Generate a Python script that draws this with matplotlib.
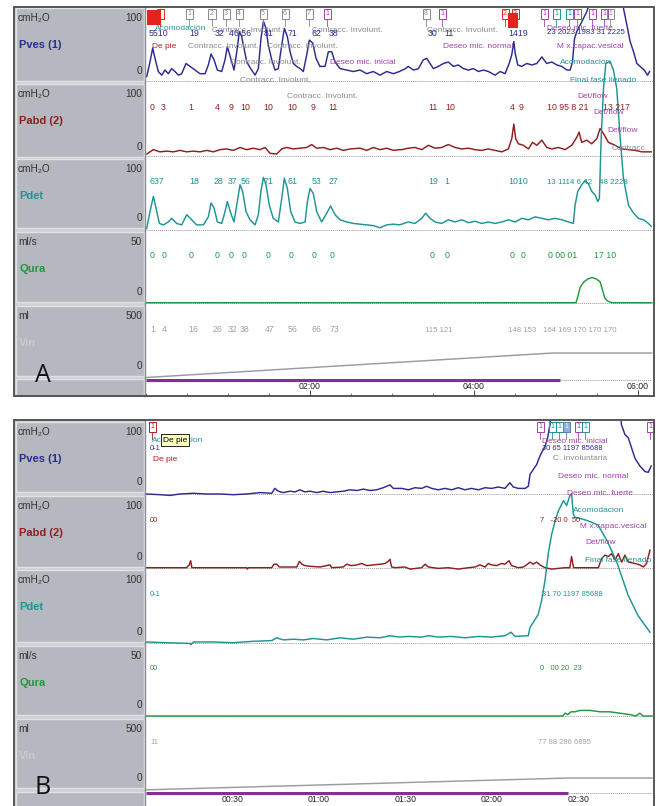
import matplotlib
matplotlib.use('Agg')
import numpy as np
import matplotlib.pyplot as plt
from matplotlib.patches import Rectangle
from matplotlib.lines import Line2D

plt.rcParams['font.family'] = ['Liberation Sans', 'DejaVu Sans']

# ======================= DATA : panel A (time in seconds) =======================
A_pves_t = [0.5, 2.9, 4.9, 6.6, 9.0, 11.5, 13.9, 16.3, 18.8, 21.2,
            23.7, 26.1, 29.3, 32.2, 35.9, 39.5, 43.2, 45.6, 47.6, 49.8,
            52.2, 55.4, 57.8, 59.5, 62.0, 64.4, 66.8, 68.3, 70.0, 71.7,
            73.7, 76.6, 79.8, 82.2, 84.1, 85.9, 87.8, 89.5, 92.0, 94.4,
            96.8, 99.3, 101.2, 103.4, 105.4, 107.8, 110.2, 112.7, 115.1, 117.6,
            119.5, 122.0, 124.4, 127.3, 131.0, 133.4, 135.9, 138.3, 142.0, 146.8,
            151.7, 156.6, 161.5, 166.3, 171.2, 176.1, 181.0, 185.4, 189.9, 191.9,
            195.7, 199.3, 202.9, 205.4, 207.8, 210.2, 213.9, 217.6, 221.2, 224.9,
            228.5, 232.2, 235.9, 239.5, 243.2, 246.9, 250.5, 255.4, 259.1, 262.7,
            265.7, 267.6, 269.1, 270.1, 272.0, 274.9, 278.6, 282.3, 285.9, 289.6,
            293.2, 296.9, 300.6, 304.2, 307.9, 310.3, 312.0, 313.5, 315.2, 317.7,
            320.1, 322.5, 327.4, 337.2, 346.9, 349.4, 351.8, 354.2, 356.7, 359.1,
            361.5, 364.5, 366.9, 368.4]
A_pves_v = [6, 26, 45, 31, 13, 8, 15, 10, 17, 13,
            8, 10, 24, 20, 15, 10, 10, 22, 37, 29,
            15, 13, 29, 47, 31, 15, 45, 68, 61, 45,
            26, 17, 8, 17, 58, 82, 72, 49, 29, 15,
            17, 49, 72, 61, 40, 24, 20, 17, 13, 36,
            56, 52, 31, 20, 20, 40, 40, 26, 17, 15,
            13, 15, 10, 13, 8, 13, 10, 13, 17, 20,
            15, 17, 29, 31, 24, 17, 20, 24, 26, 20,
            22, 17, 15, 17, 13, 15, 13, 8, 13, 10,
            24, 36, 54, 38, 22, 20, 24, 22, 24, 33,
            24, 26, 22, 20, 15, 15, 26, 58, 68, 77,
            86, 95, 122, 131, 122, 99, 77, 54, 40, 24,
            20, 15, 8, 13]

A_pabd_t = [0.5, 5.4, 10.2, 15.1, 20.0, 24.9, 29.8, 34.6, 39.5, 44.4,
            49.3, 54.1, 59.0, 63.9, 68.8, 73.7, 78.5, 83.4, 87.1, 90.7,
            95.6, 99.3, 103.0, 107.8, 112.7, 117.6, 121.2, 124.9, 129.8, 134.6,
            139.5, 144.4, 149.3, 156.6, 161.5, 166.3, 171.2, 176.1, 181.0, 185.4,
            187.1, 191.9, 196.8, 201.7, 206.6, 211.5, 216.3, 221.2, 226.1, 231.0,
            235.9, 240.7, 245.6, 250.5, 255.4, 260.3, 265.1, 267.6, 269.1, 270.5,
            272.5, 276.1, 279.8, 282.8, 285.9, 289.6, 293.2, 296.9, 301.8, 306.6,
            311.5, 315.2, 316.9, 318.8, 322.5, 326.1, 329.8, 332.2, 334.7, 338.3,
            343.2, 348.1, 353.0, 357.9, 362.8, 369.6]
A_pabd_v = [2, 8, 5, 6, 5, 7, 5, 6, 5, 7,
            5, 8, 9, 7, 11, 8, 10, 8, 11, 3,
            2, 9, 11, 9, 10, 11, 15, 10, 11, 8,
            10, 7, 9, 10, 7, 11, 8, 10, 7, 8,
            8, 10, 11, 8, 14, 10, 11, 15, 11, 9,
            10, 8, 7, 9, 7, 5, 9, 23, 43, 23,
            16, 14, 9, 18, 14, 21, 11, 9, 11, 8,
            14, 25, 32, 18, 21, 16, 23, 37, 30, 18,
            14, 9, 8, 7, 5, 5]

A_pdet_t = [0.5, 2.9, 5.4, 7.3, 9.8, 12.7, 16.3, 18.8, 22.4, 26.1,
            29.8, 33.4, 37.1, 42.0, 45.6, 47.6, 49.8, 52.2, 55.4, 57.8,
            59.5, 62.0, 64.4, 66.8, 68.8, 70.7, 73.2, 76.1, 79.8, 82.2,
            84.1, 85.9, 87.8, 90.2, 93.1, 96.8, 99.3, 101.2, 103.4, 105.9,
            109.0, 112.7, 116.4, 118.1, 120.0, 122.4, 124.9, 128.5, 132.2, 135.1,
            138.3, 142.0, 146.8, 151.7, 156.6, 161.5, 166.3, 171.2, 176.1, 181.0,
            185.4, 187.1, 191.9, 196.8, 201.7, 204.6, 207.8, 211.5, 216.3, 221.2,
            226.1, 231.0, 235.9, 240.7, 245.6, 250.5, 255.4, 260.3, 265.1, 270.0,
            274.9, 279.8, 284.7, 289.6, 294.4, 299.3, 304.2, 309.1, 312.7, 313.9,
            315.9, 318.8, 321.3, 323.7, 326.1, 328.6, 330.5, 331.7, 333.0, 334.7,
            336.4, 339.6, 342.0, 344.4, 346.9, 349.3, 353.0, 356.7, 360.3, 364.0,
            367.6, 369.6]
A_pdet_v = [2, 25, 46, 30, 9, 7, 11, 16, 9, 7,
            21, 14, 7, 7, 18, 37, 30, 11, 9, 25,
            39, 23, 11, 39, 62, 53, 25, 14, 7, 21,
            53, 72, 62, 34, 16, 11, 43, 71, 57, 25,
            11, 9, 11, 39, 57, 50, 25, 11, 23, 33,
            21, 14, 11, 9, 8, 7, 6, 3, 7, 8,
            7, 8, 11, 9, 16, 23, 16, 11, 9, 14,
            11, 14, 10, 12, 9, 11, 9, 11, 14, 11,
            16, 14, 18, 16, 14, 16, 14, 11, 9, 34,
            53, 62, 68, 63, 53, 48, 39, 43, 126, 194,
            228, 231, 219, 194, 126, 71, 34, 23, 16, 14,
            9, 5]

A_qura_t = [0, 314.6, 316.1, 317.6, 320.5, 323.4, 326.3, 329.3, 332.2, 333.7, 335.8, 338.0, 341.0, 370]
A_qura_v = [0, 0, 5, 11, 15, 17, 18, 17, 15, 10, 3, 1, 0, 0]

A_vin_t = [0, 297.6, 370]
A_vin_v = [0, 170, 170]
A_fill_end = 303

A_ticks_major = [120, 240, 360]
A_ticks_minor_step = 30

# ======================= DATA : panel B (time in seconds) =======================
B_pves_t = [0.2, 4.9, 8.3, 11.8, 16.4, 21.0, 25.7, 30.3, 34.9, 39.5,
            43.6, 44.7, 45.9, 47.6, 50.0, 51.7, 53.4, 55.1, 56.9, 59.2,
            61.5, 63.8, 66.1, 68.4, 70.8, 73.1, 75.4, 77.7, 80.0, 82.3,
            84.6, 85.8,
            88.7, 91.0, 93.3, 95.6, 97.3, 99.1, 101.4, 103.7, 106.0, 108.3,
            110.6, 112.9, 115.3, 117.6, 119.9, 122.2, 124.5, 126.2, 127.4, 129.1,
            131.5, 132.6, 133.2, 134.3, 135.5, 136.3, 137.2, 138.4, 139.3, 140.1,
            140.7, 155.7, 164.4, 164.9, 166.1, 167.3, 168.4, 169.6, 171.3, 173.1,
            174.2, 175.2]
B_pves_v = [0, -1, -2, 0, 1, 0, 0, -1, 0, 2,
            1, 8, 4, 2, 4, 3, 6, 3, 4, 2,
            4, 2, 3, 4, 6, 5, 7, 5, 6, 9,
            13, 8,
            8, 6, 9, 8, 11, 8, 6, 8, 6, 9,
            6, 8, 6, 9, 8, 10, 8, 16, 10, 8,
            8, 11, 28, 35, 42, 51, 59, 68, 80, 99,
            128, 142, 123, 99, 85, 80, 66, 51, 40, 32,
            31, 40]

B_pabd_t = [0.2, 14.1, 15.0, 15.5, 15.9, 34.9, 35.1, 35.5, 43.6, 44.4,
            45.3, 46.2, 48.8, 52.3, 53.2, 54.1, 55.1, 56.9, 60.3, 63.8,
            64.4, 68.4, 69.6, 71.3, 73.1, 74.8, 76.6, 78.8, 81.2, 82.9,
            84.0, 84.6, 85.2,
            86.4, 89.8, 91.6, 95.6, 96.8, 97.9, 101.4, 104.8, 108.3, 111.8,
            114.1, 115.8, 117.6, 118.7, 119.9, 121.6, 123.3, 124.5, 125.9, 126.8,
            129.1, 130.9, 132.0, 133.2, 134.3, 135.5, 136.6, 138.4, 140.7, 142.9,
            145.3, 147.0, 147.6, 148.3, 151.0, 156.9, 158.0, 159.2, 160.3, 161.5,
            162.7, 163.8, 165.0, 166.1, 167.3, 169.6, 171.3, 172.5, 173.6, 174.8]
B_pabd_v = [0, 0, 4, 10, 0, 0, -2, 0, 0, 5,
            5, 1, 1, 1, 9, 5, 3, 2, 1, 4,
            0, 1, 5, 3, 4, 6, 3, 4, 5, 6,
            9, 12, 1,
            0, 1, -2, 0, 5, 1, -1, 0, -2, 0,
            1, 4, 1, 6, 4, 3, 6, 5, 10, 3,
            0, 1, 4, 8, 5, 8, 4, 0, -2, -1,
            0, 0, 16, 0, 0, 0, 13, 18, 16, 20,
            11, 20, 8, 18, 8, 6, 4, 1, 6, 25]

B_pdet_t = [0.2, 7.2, 15.3, 15.5, 16.4, 23.3, 30.3, 37.2, 43.6, 45.3,
            47.6, 51.1, 54.6, 58.0, 62.7, 67.3, 71.9, 76.6, 81.2, 84.6,
            87.8,
            91.0, 95.6, 97.9, 101.4, 106.0, 110.6, 115.3, 119.9, 124.5, 126.6,
            128.0, 132.6, 133.2, 134.3, 136.0, 137.2, 138.4, 139.5, 140.7, 141.9,
            143.0, 144.8, 145.9, 147.0, 147.6, 148.2, 148.8, 151.0, 153.4, 156.8,
            160.0, 163.3, 167.2, 170.6, 174.8]
B_pdet_v = [1, 0, -1, -3, 1, 1, 0, 2, 3, 7,
            4, 5, 4, 6, 4, 7, 5, 8, 7, 10,
            8,
            9, 8, 10, 8, 9, 7, 9, 8, 10, 15,
            9, 10, 22, 29, 40, 60, 89, 127, 155, 174,
            188, 203, 196, 210, 213, 184, 179, 177, 174, 168,
            145, 115, 68, 39, 15]

B_qura_t = [0, 144.6, 145.3, 146.3, 147.4, 148.8, 150.5, 154.0, 157.4, 160.9, 164.4, 167.9, 169.9, 171.3, 172.4, 175.5]
B_qura_v = [0, 0, 2, 1, 3, 3, 4, 4, 3, 3, 2, 1, 0, 2, 0, 0]

B_vin_t = [0, 146.4, 175.5]
B_vin_v = [8, 90, 90]
B_fill_end = 146.4

B_ticks_major = [30, 60, 90, 120, 150]
B_ticks_minor_step = 10

# channel labels
units = ['cmH\u2082O', 'cmH\u2082O', 'cmH\u2082O', 'ml/s', 'ml']
tops = ['100', '100', '100', '50', '500']
names = ['Pves (1)', 'Pabd (2)', 'Pdet', 'Qura', 'Vin']
ymax = [100, 100, 100, 50, 500]

# ======================= STYLE =======================
C_PVES = '#2c2c90'
C_PABD = '#8e1f1f'
C_PDET = '#1f9494'
C_QURA = '#1f9a40'
C_VIN = '#9a9aa4'
C_PURPLE = '#a044a8'
C_GRAY = '#8a8a8a'
C_RED = '#e5231d'
C_DRED = '#b02020'
name_colors = [C_PVES, C_PABD, C_PDET, C_QURA, '#c9cbd1']
trace_colors = [C_PVES, C_PABD, C_PDET, C_QURA, C_VIN]

W, H = 661, 806
fig = plt.figure(figsize=(W / 100, H / 100), dpi=100)
fig.patch.set_facecolor('white')


def fx(x):
    return x / W


def fy(y):
    return 1 - y / H


def prect(x0, y0, x1, y1, **kw):
    r = Rectangle((fx(x0), fy(y1)), fx(x1) - fx(x0), fy(y0) - fy(y1),
                  transform=fig.transFigure, **kw)
    fig.add_artist(r)
    return r


def pline(x0, y0, x1, y1, **kw):
    fig.add_artist(Line2D([fx(x0), fx(x1)], [fy(y0), fy(y1)], transform=fig.transFigure, **kw))


def ptext(x, y, s, color='black', size=6, ha='left', va='center', weight='normal', **kw):
    return fig.text(fx(x), fy(y), s, color=color, fontsize=size, ha=ha, va=va,
                    fontweight=weight, **kw)


def axes_px(x0, y0, x1, y1, zorder=0):
    ax = fig.add_axes([fx(x0), fy(y1), fx(x1) - fx(x0), fy(y0) - fy(y1)], zorder=zorder)
    ax.patch.set_visible(False)
    return ax


def mmss(t):
    return '%02d:%02d' % (t // 60, t % 60)


def draw_panel(border, boxes, trace_rows, xmax, series, fill_end, tmaj, tmin_step,
               time_ax_px, label_frac, letter, letter_y):
    bx0, by0, bx1, by1 = border
    # label column
    prect(bx0 + 1, by0, 145, by1, facecolor='#cdd0d5', edgecolor='none', zorder=0.5)
    for i, (r0, r1) in enumerate(boxes):
        prect(16, r0, 143.5, r1, facecolor='#b5b8bf', edgecolor='#dfe1e5', lw=1.0, zorder=0.6)
        if i < 5:
            ptext(18, r0 + 10, units[i], color='#333333', size=7.3)
            ptext(142, r0 + 10, tops[i], color='#333333', size=7.3, ha='right')
            ptext(19, r0 + 37, names[i], color=name_colors[i], size=8, weight='bold')
            ptext(142, r1 - 10, '0', color='#333333', size=7.3, ha='right')
    pline(145, by0, 145, by1, color='#8a8d94', lw=1.0)

    clip = Rectangle((fx(146), fy(by1)), fx(653) - fx(146), fy(by0 + 1) - fy(by1),
                     transform=fig.transFigure)
    for i, ((y0, y1), (t, v)) in enumerate(zip(trace_rows, series)):
        ax = axes_px(146, y0, 652, y1, zorder=1)
        ax.set_axis_off()
        ax.set_xlim(0, xmax)
        ax.set_ylim(0, ymax[i])
        if i < 4:
            ax.axhline(0, color='#9a9a9a', ls=(0, (1, 1)), lw=0.7, clip_on=False)
        ln, = ax.plot(t, v, color=trace_colors[i], lw=1.05)
        ln.set_clip_path(clip)

    # time row
    tx0, ty0, tx1, ty1 = time_ax_px
    tax = axes_px(tx0, ty0, tx1, ty1, zorder=1)
    tax.set_xlim(0, xmax)
    tax.set_ylim(0, 1)
    for s in tax.spines.values():
        s.set_visible(False)
    tax.set_yticks([])
    tax.set_xticks(tmaj)
    tax.set_xticks(np.arange(0, xmax, tmin_step), minor=True)
    tax.tick_params(axis='x', which='major', direction='in', length=4, width=0.7,
                    color='#444444', labelbottom=False)
    tax.tick_params(axis='x', which='minor', direction='in', length=2.2, width=0.6,
                    color='#666666')
    top_frac = 1 - 1.2 / (ty1 - ty0)
    tax.plot([0, fill_end], [top_frac, top_frac], color='#8a2a9c', lw=2.3, solid_capstyle='butt')
    tax.plot([fill_end, xmax], [top_frac, top_frac], color='#9a9a9a', lw=0.7, ls=(0, (1, 1)))
    for t in tmaj:
        tax.text(t, label_frac, mmss(t), ha='center', va='center', fontsize=6.3, color='#222222')

    # outer border
    prect(bx0, by0, bx1, by1, facecolor='none', edgecolor='#4a4a4a', lw=1.3, zorder=5)
    ptext(43, letter_y, letter, size=18, ha='center', color='#111111',
          family=['Open Sans', 'DejaVu Sans'], zorder=6)


def marker(xc, y0, label, ec, fill='none', tc=None):
    prect(xc - 3.5, y0, xc + 3.5, y0 + 10.5, facecolor=fill, edgecolor=ec, lw=0.7, zorder=4)
    ptext(xc, y0 + 5.3, label, color=tc or ec, size=5, ha='center', zorder=4.5)
    pline(xc, y0 + 10.5, xc, y0 + 17, color=ec, lw=0.6, zorder=4)


def vals(lst, y, color, size=6.3):
    for x, s in lst:
        ptext(x, y, s, color=color, size=size)


# ======================= PANEL A =======================
draw_panel(border=(14, 7, 654, 396),
           boxes=[(8, 81), (84, 157), (159, 228), (232, 302), (306, 376), (379, 396)],
           trace_rows=[(8, 81), (82.5, 155.5), (157, 230), (232.7, 302.7), (305.5, 377.5)],
           xmax=370.2,
           series=[(A_pves_t, A_pves_v), (A_pabd_t, A_pabd_v), (A_pdet_t, A_pdet_v),
                   (A_qura_t, A_qura_v), (A_vin_t, A_vin_v)],
           fill_end=A_fill_end, tmaj=A_ticks_major, tmin_step=A_ticks_minor_step,
           time_ax_px=(146, 379, 652, 396), label_frac=0.58, letter='A', letter_y=375)

prect(147, 10, 161, 25, facecolor=C_RED, edgecolor='none', zorder=4)
prect(508, 13, 518, 28, facecolor=C_RED, edgecolor='none', zorder=4)
markersA = [(160, '', C_RED), (189, '1', C_GRAY), (212, '2', C_GRAY), (226, '3', C_GRAY),
            (239, '4', C_GRAY), (263, '5', C_GRAY), (285, '6', C_GRAY), (309, '7', C_GRAY),
            (327, '1', C_PURPLE), (426, '8', C_GRAY), (442, '1', C_PURPLE), (505, '2', C_RED),
            (515, '2', C_RED), (544, '1', C_PURPLE), (556, '1', C_PDET), (569, '1', C_PDET),
            (577, '1', C_PURPLE), (592, '1', C_PURPLE), (604, '1', C_PURPLE), (610, '1', C_GRAY)]
for xc, lab, ec in markersA:
    marker(xc, 8.5, lab, ec)

annA = [(155, 29, 'Acomodación', C_PDET), (212, 30, 'Contracc. Involunt.', C_GRAY),
        (312, 30, 'Contracc. Involunt.', C_GRAY), (427, 30, 'Contracc. Involunt.', C_GRAY),
        (188, 47, 'Contracc. Involunt.', C_GRAY), (267, 47, 'Contracc. Involunt.', C_GRAY),
        (230, 63, 'Contracc. Involunt.', C_GRAY), (240, 80, 'Contracc. Involunt.', C_GRAY),
        (152, 47, 'De pie', C_DRED), (330, 63, 'Deseo mic. inicial', C_PURPLE),
        (443, 47, 'Deseo mic. normal', C_PURPLE), (547, 28, 'Deseo mic. fuerte', C_PURPLE),
        (557, 47, 'M x.capac.vesical', C_PURPLE), (560, 63, 'Acomodación', C_PDET),
        (570, 80, 'Final fase llenado', C_PDET), (287, 97, 'Contracc. Involunt.', C_GRAY),
        (577, 97, 'Det/flow', C_PURPLE), (593, 113, 'Det/flow', C_PURPLE),
        (607, 131, 'Det/flow', C_PURPLE), (612, 148, 'Contracc.', C_GRAY)]
for x, y, s, c in annA:
    ptext(x, y, s, color=c, size=6, zorder=3)

vals([(149, '5510'), (189, '19'), (215, '32'), (229, '46 56'), (264, '81'),
      (288, '71'), (311, '62'), (329, '38'), (428, '30'), (444, '11'), (508, '1419')], 33, C_PVES)
vals([(547, '23 2023 1983 31 2225')], 33, C_PVES, 5.6)
vals([(150, '0'), (161, '3'), (188, '1'), (215, '4'), (229, '9'), (240, '10'), (263, '10'),
      (287, '10'), (311, '9'), (328, '11'), (428, '11'), (445, '10'), (510, '4'), (519, '9'),
      (547, '10 95 8 21'), (603, '13 217')], 107, C_PABD)
vals([(149, '637'), (189, '18'), (214, '28'), (228, '37'), (241, '56'), (264, '71'),
      (288, '61'), (312, '53'), (329, '27'), (428, '19'), (444, '1'), (508, '1010')], 182, C_PDET)
vals([(547, '13 1114 6 42'), (599, '48 2228')], 182, C_PDET, 5.7)
vals([(150, '0'), (162, '0'), (189, '0'), (215, '0'), (229, '0'), (242, '0'), (266, '0'),
      (289, '0'), (312, '0'), (330, '0'), (430, '0'), (445, '0'), (510, '0'), (521, '0'),
      (548, '0 00 01'), (594, '17 10')], 255, C_QURA)
vals([(150, '1'), (162, '4'), (188, '16'), (213, '26'), (228, '32'), (240, '38'), (265, '47'),
      (288, '56'), (312, '66'), (330, '73')], 330, '#a0a0a8')
vals([(425, '115 121'), (508, '148 153'), (543, '164 169 170 170 170')], 330, '#a0a0a8', 5.6)

# ======================= PANEL B =======================
draw_panel(border=(14, 420, 654, 812),
           boxes=[(422, 492), (496, 567), (570, 642), (646, 715), (719, 788), (792, 812)],
           trace_rows=[(424, 494), (497.7, 567.7), (572.7, 642.7), (646, 716), (719, 791)],
           xmax=175.5,
           series=[(B_pves_t, B_pves_v), (B_pabd_t, B_pabd_v), (B_pdet_t, B_pdet_v),
                   (B_qura_t, B_qura_v), (B_vin_t, B_vin_v)],
           fill_end=B_fill_end, tmaj=B_ticks_major, tmin_step=B_ticks_minor_step,
           time_ax_px=(146, 792, 652, 812), label_frac=0.6, letter='B', letter_y=788)

markersB = [(152, '1', C_DRED), (540, '1', C_PURPLE), (552, '1', C_PDET), (559, '1', C_PDET),
            (578, '1', C_PURPLE), (585, '1', C_PDET), (650, '1', C_PURPLE)]
for xc, lab, ec in markersB:
    marker(xc, 421.5, lab, ec)
marker(566, 421.5, '1', '#5a7fb0', fill='#8fb0d8', tc='#ffffff')

annB = [(152, 441, 'Acomodacion', C_PDET), (153, 460, 'De pie', C_DRED),
        (542, 442, 'Deseo mic. inicial', C_PURPLE), (553, 458, 'C. involuntaria', C_GRAY),
        (558, 476, 'Deseo mic. normal', C_PURPLE), (567, 493, 'Deseo mic. fuerte', C_PURPLE),
        (573, 510, 'Acomodacion', C_PDET), (580, 527, 'M x.capac.vesical', C_PURPLE),
        (585, 543, 'Det/flow', C_PURPLE), (585, 560, 'Final fase llenado', C_PDET)]
for x, y, s, c in annB:
    ptext(x, y, s, color=c, size=6, zorder=3)

ptext(163, 440, 'De pie', color='black', size=6, zorder=6,
      bbox=dict(boxstyle='square,pad=0.25', fc='#ffffc8', ec='black', lw=0.6))

vals([(150, '0-1'), (542, '30 65 1197 85688')], 448, C_PVES, 5.4)
vals([(150, '00'), (540, '7   -20 0  50')], 520, C_PABD, 5.4)
vals([(150, '0-1'), (542, '31 70 1197 85688')], 595, C_PDET, 5.4)
vals([(150, '00'), (540, '0   00 20  23')], 668, C_QURA, 5.4)
vals([(150, '11'), (538, '77 88 286 6895')], 743, '#a0a0a8', 5.4)

fig.savefig('out.png', dpi=100)
